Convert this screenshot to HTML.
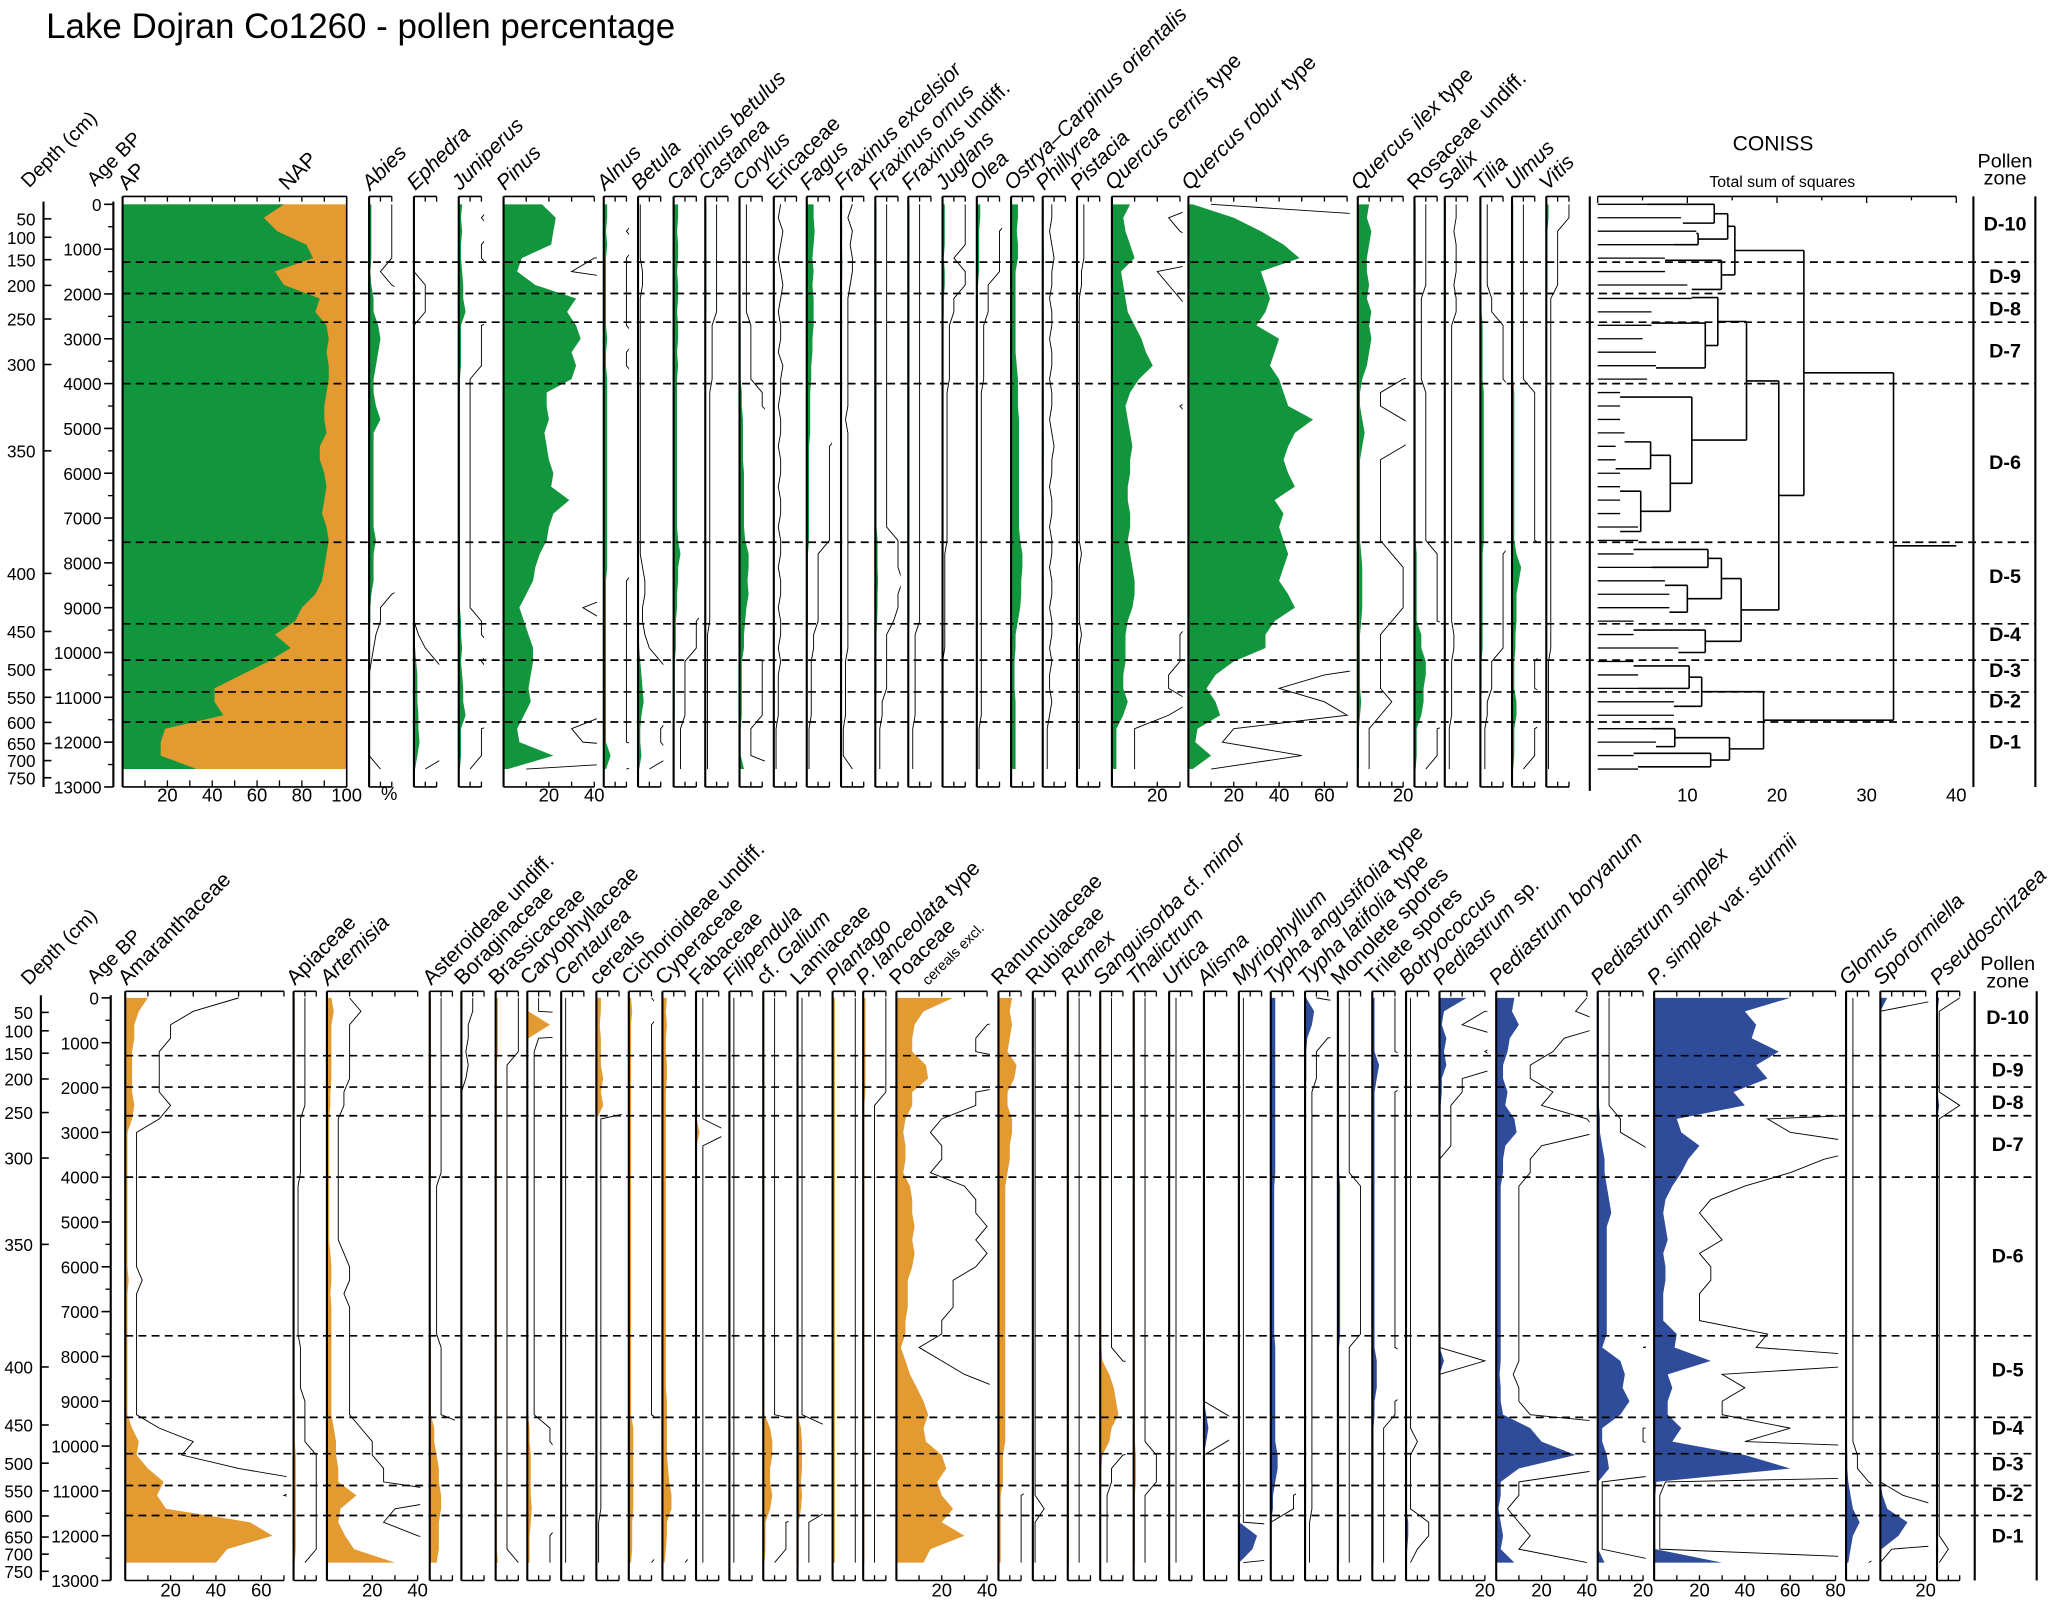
<!DOCTYPE html>
<html><head><meta charset="utf-8"><title>Lake Dojran Co1260 pollen percentage</title>
<style>
html,body{margin:0;padding:0;background:#fff;}
svg{display:block;font-family:"Liberation Sans",Arial,sans-serif;}
</style></head>
<body>
<svg id="chart" width="2067" height="1602" viewBox="0 0 1568 1215.3" preserveAspectRatio="none" xmlns="http://www.w3.org/2000/svg">
<rect x="0" y="0" width="1568" height="1216" fill="#fff"/>
<text x="35" y="29" font-size="26.5">Lake Dojran Co1260 - pollen percentage</text>
<text transform="translate(22,143) rotate(-45)" font-size="15">Depth (cm)</text>
<text transform="translate(72,142) rotate(-45)" font-size="15">Age BP</text>
<text transform="translate(22,748) rotate(-45)" font-size="15">Depth (cm)</text>
<text transform="translate(72,747) rotate(-45)" font-size="15">Age BP</text>
<text x="1345" y="114" font-size="16" text-anchor="middle">CONISS</text>
<text x="1352" y="142" font-size="12" text-anchor="middle">Total sum of squares</text>
<text x="1521" y="127" font-size="15" text-anchor="middle">Pollen</text>
<text x="1521" y="140" font-size="15" text-anchor="middle">zone</text>
<text x="1523" y="736" font-size="15" text-anchor="middle">Pollen</text>
<text x="1523" y="749" font-size="15" text-anchor="middle">zone</text>
<text x="289" y="607" font-size="14">%</text>
<g id="layer"></g>
</svg>
<script>
// ---------- data ----------
const ages = [0,300,600,900,1200,1500,1800,2100,2400,2700,3000,3300,3600,3900,4200,4500,4800,5100,5400,5700,6000,6300,6600,6900,7200,7500,7800,8100,8400,8700,9000,9300,9600,9900,10200,10500,10800,11100,11400,11700,12000,12300,12600];
const zoneNames = ["D-10","D-9","D-8","D-7","D-6","D-5","D-4","D-3","D-2","D-1"];
const zoneBoundaries = [1290,1990,2630,4000,7540,9360,10170,10880,11550];
const zoneLabelAges = [440,1610,2330,3270,5760,8300,9600,10400,11080,12000];
const depthLabels = [50,100,150,200,250,300,350,400,450,500,550,600,650,700,750];
const depthAtAge = [324,735,1235,1809,2559,3574,5500,8235,9530,10382,11000,11559,12030,12412,12794];
const ageTicks = [0,1000,2000,3000,4000,5000,6000,7000,8000,9000,10000,11000,12000,13000];

const AP = [72,63,69,82,85,68,72,88,86,91,92,91,92,92,91,90,90,91,88,88,90,91,90,89,91,92,91,90,89,86,80,77,68,75,65,53,41,41,45,19,17,17,33];
const abies = [1,1,1,1,1,0.5,1,2,2,4,5,4,3,2,2,3,5,2,2,2,2,2,2,2,2,3,2,2,2,1,0.5,0.5,0.3,0.2,0.1,0,0,0,0,0,0,0,0.5];
const ephedra = [0,0,0,0,0,0,0.5,0.5,0.5,0,0,0,0,0,0,0,0,0,0,0,0,0,0,0,0,0,0,0,0,0,0,0,0.2,0.5,1,1.5,1.5,1.5,2,2,2.5,1.5,0.5];
const juniperus = [1.5,1,1.5,1,1,1.5,2,2,3,1,1,1,1,0.5,0.5,0.5,0.5,0.5,0.5,0.5,0.5,0.5,0.5,0.5,0.5,0.5,0.5,0.5,0.5,0.5,0.5,1,1,1.5,1,1.5,2,2,3,1,1,1,0.5];
const pinus = [17,23,22,21,8,6,14,32,28,32,34,30,32,30,19,19,20,18,19,20,22,21,29,22,20,19,16,14,13,10,7,9,11,13,13,12,11,12,9,6,7,22,2];
const alnus = [1.5,1.5,1,1.5,1,1,1,1,1,1,1.5,1,1,1.5,1.5,1.5,1.5,1.5,1.5,1.5,1.5,1.5,1.5,1.5,1.5,1.5,1.5,1.5,1,1,1,1,1,1,1,1,1,1,1,1,1,3,1];
const betula = [0.1,0.1,0.1,0.1,0.1,0.2,0.2,0.1,0.1,0.1,0.1,0.1,0.1,0.1,0.1,0.1,0.1,0.1,0.1,0.1,0.1,0.1,0.1,0.1,0.1,0.1,0.1,0.2,0.3,0.3,0.2,0.2,0.3,0.5,1,1.5,2,2.5,1.5,1,1,1.5,0.5];
const carpinus = [2,2,1.5,2,2,1.5,2,2,1.5,2,2,1.5,2,1.5,1.5,1.5,1.5,1.5,1.5,1.5,1.5,1.5,1.5,1.5,1.5,2,3,2,2,1.5,1.5,1,1,1,0.5,0.5,0.5,0.5,0.5,0.3,0.3,0.3,0.3];
const castanea = [0.5,0.5,0.5,0.5,0.5,0.5,0.5,0.5,0.5,0.3,0.3,0.3,0.3,0.3,0.2,0.2,0.2,0.2,0.2,0.2,0.2,0.2,0.2,0.2,0.2,0.2,0.2,0.2,0.2,0.2,0.2,0.2,0.1,0.1,0.1,0.1,0.1,0.1,0.1,0.1,0.1,0.1,0.1];
const corylus = [0.3,0.3,0.3,0.3,0.3,0.3,0.3,0.3,0.3,0.5,0.5,0.5,0.5,0.5,1,1,1.5,1.5,1.5,1.5,2,2,2,2,2,2.5,4,4,3.5,4,3,2.5,2,2,1,1,1,1,1,0.5,0.5,0.5,2];
const ericaceae = [0.3,0.2,0.4,0.3,0.2,0.3,0.4,0.3,0.2,0.3,0.3,0.2,0.4,0.3,0.3,0.2,0.3,0.3,0.2,0.3,0.3,0.2,0.3,0.3,0.2,0.3,0.3,0.2,0.3,0.3,0.2,0.3,0.3,0.2,0.3,0.2,0.2,0.2,0.2,0.1,0.1,0.1,0.1];
const fagus = [3,3,3.5,3,2.5,3,2.5,3,3,3,2.5,2.5,2,2,1.5,1.5,1.5,1.5,1,1,1,1,1,1,1,1,0.5,0.5,0.5,0.5,0.5,0.5,0.3,0.3,0.2,0.2,0.2,0.2,0.2,0.1,0.1,0.1,0.1];
const fraxExc = [0.5,0.3,0.5,0.4,0.5,0.5,0.4,0.3,0.3,0.3,0.3,0.3,0.3,0.3,0.3,0.3,0.2,0.3,0.3,0.3,0.3,0.3,0.3,0.3,0.3,0.3,0.3,0.3,0.3,0.3,0.3,0.3,0.3,0.3,0.2,0.2,0.2,0.2,0.2,0.1,0.1,0.1,0.5];
const fraxOrn = [0.5,0.5,0.5,0.5,0.5,0.5,0.5,0.5,0.5,0.5,0.5,0.5,0.5,0.5,0.5,0.5,0.5,0.5,0.5,0.5,0.5,0.5,0.5,0.5,0.5,1,1,1,1.2,1,1,0.8,0.5,0.5,0.5,0.5,0.5,0.3,0.3,0.2,0.2,0.2,0.2];
const fraxUnd = [0.5,0.5,0.5,0.5,0.5,0.5,0.5,0.5,0.5,0.5,0.5,0.5,0.5,0.5,0.5,0.5,0.5,0.5,0.5,0.5,0.5,0.5,0.5,0.5,0.5,0.5,0.5,0.5,0.5,0.5,0.5,0.5,0.3,0.3,0.3,0.3,0.3,0.3,0.3,0.2,0.2,0.2,0.2];
const juglans = [1,1,1,1,0.5,1,1,0.5,0.5,0.3,0.3,0.3,0.3,0.3,0.2,0.2,0.2,0.2,0.2,0.2,0.2,0.2,0.2,0.2,0.2,0.2,0.1,0.1,0.1,0.1,0.1,0.1,0.1,0.1,0,0,0,0,0,0,0,0,0];
const olea = [1.5,1.5,1,1,1,1,0.5,0.5,0.5,0.3,0.3,0.3,0.3,0.3,0.2,0.2,0.2,0.2,0.2,0.2,0.2,0.2,0.2,0.2,0.2,0.2,0.2,0.2,0.2,0.2,0.2,0.2,0.2,0.2,0.2,0.2,0.2,0.2,0.2,0.1,0.1,0.1,0.1];
const ostrya = [3,3,2.5,3,3,2,2,2,2,2,2,2,2.5,3,3,3,3.5,3.5,3.5,3.5,3.5,3.5,3.5,3.5,3.5,4,5,5,4.5,4.5,4,3,2,2,1.5,1.5,1.5,2,2,2,2,2,2];
const phillyrea = [0.4,0.4,0.3,0.4,0.5,0.4,0.4,0.3,0.4,0.4,0.3,0.4,0.4,0.3,0.4,0.4,0.3,0.4,0.5,0.4,0.4,0.3,0.4,0.4,0.3,0.4,0.4,0.3,0.4,0.4,0.3,0.4,0.4,0.3,0.4,0.3,0.3,0.4,0.3,0.2,0.2,0.2,0.2];
const pistacia = [0.3,0.3,0.3,0.3,0.3,0.2,0.2,0.1,0.1,0.1,0.1,0.1,0.1,0.1,0.1,0.1,0.1,0.1,0.1,0.1,0.1,0.1,0.1,0.1,0.1,0.1,0.2,0.1,0.1,0.1,0.1,0.1,0.2,0.1,0.1,0.1,0.1,0.1,0.1,0.1,0.1,0.1,0.1];
const qCerris = [8,5,6,8,10,4,5,6,7,10,13,15,18,12,8,6,7,8,9,8,8,7,7,8,8,7,8,9,10,10,9,7,6,6,6,5,5,7,5,2,2,2,2];
const qRobur = [2,20,32,42,49,32,34,36,34,30,40,38,36,40,42,44,55,47,44,42,44,47,38,42,40,42,44,42,40,44,47,38,34,34,20,12,8,12,14,4,3,10,2];
const qIlex = [5,4,6,5,4,4,5,4,6,5,6,5,4,2,1,1,2,3,2,1,1,1,1,1,1,1,1.5,2,2,2,2,1.5,1,1,1,1,1,1.5,1,0.5,0.5,0.5,0.5];
const rosaceae = [0.5,0.5,0.5,0.5,0.5,0.5,0.5,0.3,0.3,0.3,0.3,0.3,0.3,0.3,0.5,0.5,0.5,0.5,0.5,0.5,0.5,0.5,0.5,0.5,0.5,0.5,1,1,1,1,1,1,3,3,5,5,4,4,3,1,1,1,0.5];
const salix = [0.5,0.5,0.4,0.5,0.5,0.5,0.4,0.5,0.5,0.3,0.3,0.3,0.3,0.3,0.3,0.3,0.3,0.3,0.3,0.3,0.3,0.3,0.3,0.3,0.3,0.3,0.3,0.3,0.3,0.3,0.3,0.3,0.4,0.4,0.3,0.3,0.3,0.3,0.3,0.2,0.2,0.2,0.2];
const tilia = [0.3,0.3,0.3,0.3,0.3,0.3,0.3,0.5,0.5,1,1,1,1,1,1.5,1.5,1.5,1.5,1.5,1.5,1.5,1.5,1.5,1.5,1.5,1.5,1,1,1,1,1,1,1,1,0.5,0.5,0.5,0.3,0.3,0.2,0.2,0.2,0.2];
const ulmus = [0.5,0.5,0.5,0.5,0.5,0.5,0.5,0.5,0.5,0.5,0.5,0.5,0.5,0.5,1,1,1,1,1,1,1,1,1,1,1,1,2,4,3,2,2,2,1.5,1.5,1,1,1,2,2,1,1,1,0.5];
const vitis = [1,1,0.5,0.5,0.5,0.5,0.5,0.2,0.2,0.2,0.2,0.2,0.2,0.2,0.2,0.2,0.2,0.2,0.2,0.2,0.2,0.2,0.2,0.2,0.2,0.2,0.2,0.2,0.2,0.2,0.2,0.2,0.2,0.2,0.1,0.1,0.1,0.1,0.1,0.1,0.1,0.1,0.1];

const amaranth = [10,6,4,4,3,3,3,3,4,3,1,1,1,1,1,1,1,1,1,1,1,1.5,1,1,1,1,1,1,1,1,1,1,3,6,5,10,17,14,18,55,65,45,40];
const apiaceae = [0.5,0.5,0.5,0.5,0.5,0.5,0.5,0.5,0.5,0.3,0.3,0.3,0.3,0.3,0.2,0.2,0.2,0.2,0.2,0.2,0.2,0.2,0.2,0.2,0.2,0.2,0.3,0.3,0.3,0.3,0.5,0.5,0.5,0.5,1,1,1,1,1,1,1,1,0.5];
const artemisia = [2,3,2,2,2,2,2,1.5,1.5,1,1,1,1,1,1,1,1,1,1,1.5,2,2,1.5,2,2,2,2,2,2,2,2,2,3,4,4,5,5,13,6,5,8,12,30];
const asteroideae = [0.5,0.5,0.5,0.5,0.5,0.5,0.5,0.5,0.5,0.5,0.5,0.5,0.5,0.5,0.3,0.3,0.3,0.3,0.3,0.3,0.3,0.3,0.3,0.3,0.3,0.3,0.5,0.5,0.5,0.5,0.5,0.5,2,2,3,4,4,5,5,4,4,4,3];
const boraginaceae = [0.5,0.5,0.3,0.3,0.2,0.3,0.2,0,0,0,0,0,0,0,0,0,0,0,0,0,0,0,0,0,0,0,0,0,0,0,0,0,0,0,0,0,0,0,0,0,0,0,0];
const brassicaceae = [1,1,1,1,1,0.5,0.5,0.5,0.5,0.5,0.5,0.5,0.5,0.5,0.5,0.5,0.5,0.5,0.5,0.5,0.5,0.5,0.5,0.5,0.5,0.5,0.5,0.5,0.5,0.5,0.5,0.5,0.5,0.5,0.5,0.5,0.5,0.5,0.5,0.5,0.5,0.5,1];
const caryophyllaceae = [0.5,0.5,10,0.5,0.3,0.3,0.3,0.3,0.3,0.3,0.3,0.3,0.3,0.3,0.3,0.3,0.3,0.3,0.3,0.3,0.3,0.3,0.3,0.3,0.3,0.3,0.3,0.3,0.3,0.3,0.3,0.3,1,1,1.5,1.5,1.5,1.5,2,1.5,1,1,1];
const centaurea = [0.2,0.2,0.2,0.2,0.2,0.2,0.2,0.2,0.2,0.2,0.2,0.2,0.2,0.2,0.2,0.2,0.2,0.2,0.2,0.2,0.2,0.2,0.2,0.2,0.2,0.2,0.2,0.2,0.2,0.2,0.2,0.2,0.2,0.2,0.2,0.2,0.2,0.2,0.2,0.2,0.2,0.2,0.2];
const cereals = [2,2,1.5,2,2,2,3,2,3,0.2,0.2,0.2,0.2,0.2,0.2,0.2,0.2,0.2,0.2,0.2,0.2,0.2,0.2,0.2,0.2,0.2,0.2,0.2,0.2,0.2,0.2,0.2,0.2,0.2,0.2,0.2,0.2,0.2,0.2,0.1,0.1,0.1,0.1];
const cichorioideae = [1,1.5,1,1,1,1,1,1,1,1,1,1,1,1,1,1,1,1,1,1,1,1,1,1,1,1,1,1,1,1,1,1,2,2,2,2,2,2,2,1.5,1.5,1.5,1];
const cyperaceae = [2,1.5,2,1.5,1.5,2,2,1.5,1.5,1.5,1.5,1.5,1.5,1.5,1.5,1.5,1.5,1.5,1.5,1.5,1.5,1.5,1.5,1.5,1.5,1.5,1.5,1.5,1.5,1.5,2,2,2,2,2,2.5,3,4,4,2,2,1.5,1];
const fabaceae = [0.3,0.3,0.3,0.3,0.3,0.3,0.3,0.3,0.3,0.3,1.5,0.3,0.3,0.3,0.3,0.3,0.3,0.3,0.3,0.3,0.3,0.3,0.3,0.3,0.3,0.3,0.3,0.3,0.3,0.3,0.3,0.3,0.3,0.3,0.3,0.3,0.3,0.3,0.3,0.3,0.3,0.3,0.3];
const filipendula = [0.2,0.2,0.2,0.2,0.2,0.2,0.2,0.2,0.2,0.2,0.2,0.2,0.2,0.2,0.2,0.2,0.2,0.2,0.2,0.2,0.2,0.2,0.2,0.2,0.2,0.2,0.2,0.2,0.2,0.2,0.2,0.2,0.2,0.2,0.2,0.2,0.2,0.2,0.2,0.2,0.2,0.2,0.2];
const galium = [0.5,0.5,0.5,0.5,0.5,0.5,0.5,0.5,0.5,0.5,0.5,0.5,0.5,0.5,0.5,0.5,0.5,0.5,0.5,0.5,0.5,0.5,0.5,0.5,0.5,0.5,0.5,0.5,0.5,0.5,0.5,0.5,3,4,4,3,3,4,3,1,1,1,0.5];
const lamiaceae = [0.2,0.2,0.2,0.2,0.2,0.2,0.2,0.2,0.2,0.2,0.2,0.2,0.2,0.2,0.2,0.2,0.2,0.2,0.2,0.2,0.2,0.2,0.2,0.2,0.2,0.2,0.2,0.2,0.2,0.2,0.2,0.2,1.5,2,2,2,1.5,2,1.5,0.5,0.5,0.5,0.5];
const plantago = [1,1,1,1,1,1,1,1,1,1,1,1,1,1,1,1,1,1,1,1,1,1,1,1,1,1,1,1,1,1,1,1,1,1,1,1,1,1,1,1,1,1,1];
const plantLanc = [1,1,1,1,1,1,1,1,0.5,0.5,0.5,0.5,0.5,0.5,0.5,0.5,0.5,0.5,0.5,0.5,0.5,0.5,0.5,0.5,0.5,0.5,0.5,0.5,0.5,0.5,0.5,0.5,0.5,0.5,0.5,0.5,0.5,0.5,0.5,0.5,0.5,0.5,0.5];
const poaceae = [25,12,8,7,7,13,14,7,7,4,3,4,4,3,6,7,7,8,7,8,7,5,5,5,4,4,2,4,6,9,12,14,12,13,20,22,18,20,25,20,30,15,12];
const ranunculaceae = [6,5,6,5,4,8,7,4,4,6,6,5,5,4,3,3,3,3,3,3,3,3,3,3,3,3,3,3,3,3,3,3,3,3,2,2,2,1,1,1,1,1,1];
const rubiaceae = [0.1,0.1,0.1,0.1,0.1,0.1,0.1,0.1,0.1,0.1,0.1,0.1,0.1,0.1,0.1,0.1,0.1,0.1,0.1,0.1,0.1,0.1,0.1,0.1,0.1,0.1,0.1,0.1,0.1,0.1,0.1,0.1,0.1,0.1,0.1,0.1,0.1,0.1,0.5,0.1,0.1,0.1,0.1];
const rumex = [0.5,0.5,0.5,0.5,0.5,0.5,0.5,0.5,0.5,0.5,0.5,0.5,0.5,0.5,0.5,0.5,0.5,0.5,0.5,0.5,0.5,0.5,0.5,0.5,0.5,0.5,0.5,0.5,0.5,0.5,0.5,0.5,0.5,0.5,0.5,0.5,0.5,0.5,0.5,0.5,0.5,0.5,0.5];
const sanguisorba = [0.5,0.5,0.5,0.5,0.5,0.5,0.5,0.5,0.5,0.5,0.5,0.5,0.5,0.5,0.5,0.5,0.5,0.5,0.5,0.5,0.5,0.5,0.5,0.5,0.5,0.5,0.5,1,4,6,7,8,5,4,1,0.5,0.5,0.3,0.3,0.3,0.3,0.3,0.3];
const thalictrum = [0.5,0.5,0.5,0.5,0.5,0.5,0.5,0.5,0.5,0.5,0.5,0.5,0.5,0.5,0.5,0.5,0.5,0.5,0.5,0.5,0.5,0.5,0.5,0.5,0.5,0.5,0.5,0.5,0.5,0.5,0.5,0.5,0.5,0.5,1,1,1,0.5,0.5,0.5,0.5,0.5,0.5];
const urtica = [0.3,0.3,0.3,0.3,0.3,0.3,0.3,0.3,0.3,0.3,0.3,0.3,0.3,0.3,0.3,0.3,0.3,0.3,0.3,0.3,0.3,0.3,0.3,0.3,0.3,0.3,0.3,0.3,0.3,0.3,0.3,0.3,0.3,0.3,0.3,0.3,0.3,0.3,0.3,0.3,0.3,0.3,0.3];
const alisma = [0,0,0,0,0,0,0,0,0,0,0,0,0,0,0,0,0,0,0,0,0,0,0,0,0,0,0,0,0,0,0,1,2,1,0,0,0,0,0,0,0,0,0];
const myriophyllum = [0.2,0.2,0.2,0.2,0.2,0.2,0.2,0.2,0.2,0.2,0.2,0.2,0.2,0.2,0.2,0.2,0.2,0.2,0.2,0.2,0.2,0.2,0.2,0.2,0.2,0.2,0.2,0.2,0.2,0.2,0.2,0.2,0.2,0.2,0.2,0.2,0.2,0.2,0.2,0.2,8,6,0.2];
const typhaAng = [2,2,2,2,2,2,2,2,2,2,2,2,2,2,1.5,1.5,1.5,1.5,1.5,1.5,1.5,1.5,1.5,1.5,1.5,1.5,2,2,2,2,2,2,2,2,3,3,2,1,1,0,0,0,0];
const typhaLat = [0.5,4,3,1,0.5,0.5,0.5,0.3,0.3,0.3,0.3,0.3,0.3,0.3,0.3,0.3,0.3,0.3,0.3,0.3,0.3,0.3,0.3,0.3,0.3,0.3,0.3,0.3,0.3,0.3,0.3,0.3,0.3,0.3,0.3,0.3,0.3,0.3,0.3,0.2,0.2,0.2,0.2];
const monolete = [0.5,0.5,0.5,0.5,0.5,0.5,0.5,0.5,0.5,0.5,0.5,0.5,0.5,0.5,1,1,1,1,1,1,1,1,1,1,1,1,0.5,0.5,0.5,0.5,0.5,0.5,0.5,0.5,0.5,0.5,0.5,0.5,0.5,0.5,0.5,0.5,0.5];
const trilete = [1,1,1,1,1,3,2,1,1,1,1,1,1,1,1,1,1,1,1,1,1,1,1,1,1,1,1,2,2,2,1,1,0.5,0.5,0.5,0.5,0.5,0.5,0.5,0.5,0.5,0.5,0.5];
const botryococcus = [0.2,0.2,0.2,0.2,0.2,0.2,0.2,0.2,0.2,0.2,0.2,0.2,0.2,0.2,0.2,0.2,0.2,0.2,0.2,0.2,0.2,0.2,0.2,0.2,0.2,0.2,0.2,0.2,0.2,0.2,0.2,0.2,0.2,0.5,0.2,0.2,0.2,0.2,0.2,1,1,0.5,0.2];
const pediastrumSp = [12,2,1,3,2,3,1,1,0.5,0.5,0.5,0.5,0,0,0,0,0,0,0,0,0,0,0,0,0,0,0,2,0,0,0,0,0,0,0,0,0,0,0,0,0,0,0];
const pBoryanum = [8,7,10,6,5,3,3,5,4,8,9,4,3,3,2,2,2,2,2,2,2,2,2,2,2,2,2,2,1.5,2,2,3,15,20,35,10,2,2,1,2,3,2,8];
const pSimplex = [0.5,0.5,0.5,0.5,0.5,0.5,0.5,0.5,0.5,1,1,2,3,3,4,5,6,4,4,4,4,4,4,4,4,4,2,10,12,11,14,10,2,2,4,5,0.2,0.2,0.2,0.2,0.2,0.2,3];
const pSturmii = [60,40,45,43,55,45,50,35,40,10,12,20,15,12,8,5,4,5,6,4,5,5,4,4,4,10,9,25,6,8,6,6,12,8,40,60,1,0.5,0.5,0.5,0.5,0.5,30];
const glomus = [0.3,0.3,0.3,0.3,0.3,0.3,0.3,0.3,0.3,0.3,0.3,0.3,0.3,0.3,0.3,0.3,0.3,0.3,0.3,0.3,0.3,0.3,0.3,0.3,0.3,0.3,0.3,0.3,0.3,0.3,0.3,0.3,0.3,0.3,0.5,0.5,1,2,3,6,3,2,1];
const sporormiella = [3,0,0,0,0,0,0,0,0,0,0,0,0,0,0,0,0,0,0,0,0,0,0,0,0,0,0,0,0,0,0,0,0,0,0,0,0,1,3,12,8,0.5,0];
const pseudoschizaea = [1,0.1,0.1,0.1,0.1,0.1,0.1,0.1,1,0.1,0.1,0.1,0.1,0.1,0.1,0.1,0.1,0.1,0.1,0.1,0.1,0.1,0.1,0.1,0.1,0.1,0.1,0.1,0.1,0.1,0.1,0.1,0.1,0.1,0.1,0.1,0.1,0.1,0.1,0.1,0.1,0.5,0.1];

// CONISS: leaf sums of squares per sample, and brackets [age1, ss1, age2, ss2, ssNode]
const conissLeaf = [5.5,9.3,11,8.5,7.5,7.5,10,10.5,6,6,5,6.5,6.5,5.5,2.5,2.5,2.5,3,2,2,2.5,2.5,2.5,2.5,4.5,4.5,4,6,7.5,8,8,4,4,9,4,4.5,4.5,8.5,8.5,6,6.5,4,4.5];
const conissNodes = [
 [0,5.5,420,9.5,13],[650,11,900,8.5,11.2],[210,13,775,11.2,14.5],[1250,7.5,1900,10.5,13.8],[490,14.5,1575,13.8,15.3],
 [2650,6,3650,6.5,12],[2080,10.5,3150,12,13.4],[5300,3,5900,2,5.9],[6400,2.5,7300,2.5,4.8],[5600,5.9,6850,4.8,8.1],
 [4300,2.5,6225,8.1,10.5],[2615,13.4,5260,10.5,16.6],[7700,4,8100,6,12.3],[8500,7.5,9100,8,10],[7900,12.3,8800,10,13.8],
 [9500,4,10000,9,12],[8350,13.8,9750,12,16],[3940,16.6,9050,16,20.2],[1030,15.3,6495,20.2,23],
 [10300,4,10800,4.5,10.2],[10550,10.2,11200,8.5,11.6],[11700,6,12100,6.5,8.6],[12250,4,12550,4.5,12.6],[11900,8.6,12400,12.6,14.7],[10875,11.6,12150,14.7,18.5],
 [3760,23,11510,18.5,33]
];
const conissTicks = [10,20,30,40];

// ---------- layout ----------
const GREEN = "#12963d", ORANGE = "#e39a30", BLUE = "#2f4c9b";
const S = 1.72;
const topP = {axTop:149, axBot:597, y:a => 155 + a*0.034, lab:145, tickLab:608};
const botP = {axTop:752, axBot:1199, y:a => 757 + a*0.034, lab:748, tickLab:1211};

const topTaxa = [
 {v:abies,it:"Abies",x:280,w:10},{v:ephedra,it:"Ephedra",x:314,w:10},{v:juniperus,it:"Juniperus",x:348,w:10},
 {v:pinus,it:"Pinus",x:382,w:40,ticks:[20,40]},{v:alnus,it:"Alnus",x:458,w:10},{v:betula,it:"Betula",x:484,w:10},
 {v:carpinus,it:"Carpinus betulus",x:511,w:10},{v:castanea,it:"Castanea",x:535,w:10},{v:corylus,it:"Corylus",x:561,w:10},
 {v:ericaceae,pre:"Ericaceae",x:587,w:10},{v:fagus,it:"Fagus",x:612,w:10},{v:fraxExc,it:"Fraxinus excelsior",x:638,w:10},
 {v:fraxOrn,it:"Fraxinus ornus",x:664,w:10},{v:fraxUnd,it:"Fraxinus",rest:" undiff.",x:689,w:10},{v:juglans,it:"Juglans",x:715,w:10},
 {v:olea,it:"Olea",x:741,w:10},{v:ostrya,it:"Ostrya–Carpinus orientalis",x:767,w:10},{v:phillyrea,it:"Phillyrea",x:791,w:10},
 {v:pistacia,it:"Pistacia",x:817,w:10},{v:qCerris,it:"Quercus cerris",rest:" type",x:843.5,w:30,ticks:[20]},
 {v:qRobur,it:"Quercus robur",rest:" type",x:901.5,w:70,ticks:[20,40,60]},{v:qIlex,it:"Quercus ilex",rest:" type",x:1030,w:20,ticks:[20]},
 {v:rosaceae,pre:"Rosaceae undiff.",x:1073,w:10},{v:salix,it:"Salix",x:1096,w:10},{v:tilia,it:"Tilia",x:1123,w:10},
 {v:ulmus,it:"Ulmus",x:1147,w:10},{v:vitis,it:"Vitis",x:1173,w:10}
];
const botTaxa = [
 {v:amaranth,pre:"Amaranthaceae",x:95,w:70,ticks:[20,40,60],c:ORANGE},{v:apiaceae,pre:"Apiaceae",x:222.7,w:10,c:ORANGE},
 {v:artemisia,it:"Artemisia",x:248,w:40,ticks:[20,40],c:ORANGE},{v:asteroideae,pre:"Asteroideae undiff.",x:326,w:10,c:ORANGE},
 {v:boraginaceae,pre:"Boraginaceae",x:350,w:10,c:ORANGE},{v:brassicaceae,pre:"Brassicaceae",x:376,w:10,c:ORANGE},
 {v:caryophyllaceae,pre:"Caryophyllaceae",x:400,w:10,c:ORANGE},{v:centaurea,it:"Centaurea",x:425.7,w:10,c:ORANGE},
 {v:cereals,pre:"cereals",x:452.4,w:10,c:ORANGE},{v:cichorioideae,pre:"Cichorioideae undiff.",x:477,w:10,c:ORANGE},
 {v:cyperaceae,pre:"Cyperaceae",x:502.5,w:10,c:ORANGE},{v:fabaceae,pre:"Fabaceae",x:528,w:10,c:ORANGE},
 {v:filipendula,it:"Filipendula",x:553.3,w:10,c:ORANGE},{v:galium,pre:"cf. ",it:"Galium",x:579,w:10,c:ORANGE},
 {v:lamiaceae,pre:"Lamiaceae",x:605,w:10,c:ORANGE},{v:plantago,it:"Plantago",x:631.6,w:10,c:ORANGE},
 {v:plantLanc,it:"P. lanceolata",rest:" type",x:654.8,w:10,c:ORANGE},{v:poaceae,pre:"Poaceae",x:680,w:40,ticks:[20,40],c:ORANGE},
 {v:ranunculaceae,pre:"Ranunculaceae",x:757.4,w:10,c:ORANGE},{v:rubiaceae,pre:"Rubiaceae",x:783.5,w:10,c:ORANGE},
 {v:rumex,it:"Rumex",x:810,w:10,c:ORANGE},{v:sanguisorba,it:"Sanguisorba",rest:" cf. ",it2:"minor",x:834.6,w:10,c:ORANGE},
 {v:thalictrum,it:"Thalictrum",x:860,w:10,c:ORANGE},{v:urtica,it:"Urtica",x:886.9,w:10,c:ORANGE},
 {v:alisma,it:"Alisma",x:913.3,w:10,c:BLUE},{v:myriophyllum,it:"Myriophyllum",x:939.8,w:10,c:BLUE},
 {v:typhaAng,it:"Typha angustifolia",rest:" type",x:964,w:10,c:BLUE},{v:typhaLat,it:"Typha latifolia",rest:" type",x:990,w:10,c:BLUE},
 {v:monolete,pre:"Monolete spores",x:1014.9,w:10,c:BLUE},{v:trilete,pre:"Trilete spores",x:1041,w:10,c:BLUE},
 {v:botryococcus,it:"Botryococcus",x:1066.6,w:10,c:BLUE},{v:pediastrumSp,it:"Pediastrum",rest:" sp.",x:1092,w:20,ticks:[20],c:BLUE},
 {v:pBoryanum,it:"Pediastrum boryanum",x:1135,w:40,ticks:[20,40],c:BLUE},{v:pSimplex,it:"Pediastrum simplex",x:1212,w:20,ticks:[20],c:BLUE},
 {v:pSturmii,it:"P. simplex",rest:" var. ",it2:"sturmii",x:1254.8,w:80,ticks:[20,40,60,80],c:BLUE},
 {v:glomus,it:"Glomus",x:1400.4,w:10,c:BLUE},{v:sporormiella,it:"Sporormiella",x:1426.4,w:20,ticks:[20],c:BLUE},
 {v:pseudoschizaea,it:"Pseudoschizaea",x:1469.4,w:10,c:BLUE}
];

const NS = "http://www.w3.org/2000/svg";
const layer = document.getElementById("layer");
let clipId = 0;
function el(tag, parent){ const e = document.createElementNS(NS, tag); (parent||layer).appendChild(e); return e; }
function line(x1,y1,x2,y2,w,parent){ const l = el("line",parent); l.setAttribute("x1",x1); l.setAttribute("y1",y1); l.setAttribute("x2",x2); l.setAttribute("y2",y2); l.setAttribute("stroke","#000"); l.setAttribute("stroke-width",w); return l; }
function txt(x,y,s,size,anchor,parent){ const t = el("text",parent); t.setAttribute("x",x); t.setAttribute("y",y); t.setAttribute("font-size",size); if(anchor) t.setAttribute("text-anchor",anchor); t.textContent = s; return t; }

function drawTaxon(p, t, color, slug){
  const g = el("g");
  
  
  const x0 = t.x, w = t.w*S;
  const exag = t.w <= 20 ? 10 : 5;
  const cp = el("clipPath", g); const cid = "c"+(clipId++); cp.setAttribute("id", cid);
  const cr = el("rect", cp); cr.setAttribute("x", x0); cr.setAttribute("y", p.axTop); cr.setAttribute("width", w+2); cr.setAttribute("height", p.axBot-p.axTop);
  const ex = el("polyline", g);
  
  
  ex.setAttribute("points", t.v.map((v,i)=> (x0+v*exag*S).toFixed(1)+","+p.y(ages[i]).toFixed(1)).join(" "));
  ex.setAttribute("fill","none"); ex.setAttribute("stroke","#000"); ex.setAttribute("stroke-width","0.7"); ex.setAttribute("clip-path","url(#"+cid+")");
  const pg = el("polygon", g);
  
  
  const pts = [x0+","+p.y(ages[0])].concat(t.v.map((v,i)=> (x0+v*S).toFixed(1)+","+p.y(ages[i]).toFixed(1))).concat([x0+","+p.y(ages[ages.length-1])]);
  pg.setAttribute("points", pts.join(" ")); pg.setAttribute("fill", color);
  line(x0,p.axTop,x0,p.axBot,1.6,g);
  line(x0,p.axTop,x0+w,p.axTop,1.2,g);
  line(x0,p.axBot,x0+w,p.axBot,1.2,g);
  const step = t.w>=30 ? 10 : 5;
  for(let k=step;k<=t.w;k+=step){
    line(x0+k*S,p.axTop,x0+k*S,p.axTop+4,1,g);
    line(x0+k*S,p.axBot,x0+k*S,p.axBot-4,1,g);
  }
  (t.ticks||[]).forEach(k=>{ const tl = txt(x0+k*S, p.tickLab, String(k), 14, "middle", g);
    
     });
  const lab = el("text", g);
  
  
  lab.setAttribute("transform","translate("+(x0+1)+","+p.lab+") rotate(-45)");
  lab.setAttribute("font-size","16");
  const parts = [[t.pre,false],[t.it,true],[t.rest,false],[t.it2,true]];
  parts.forEach(([s,it])=>{ if(!s) return; const ts = el("tspan", lab); ts.textContent = s; if(it) ts.setAttribute("font-style","italic"); });
}

function slugify(t){ return ((t.pre||"")+(t.it||"")+(t.rest||"")+(t.it2||"")).toLowerCase().replace(/[^a-z0-9]+/g,"-").replace(/^-|-$/g,"") + "-plot"; }

function drawAxes(p, dx, ax){
  const g = el("g");
  
  
  line(dx, p.y(0)-2, dx, p.axBot, 1.6, g);
  depthLabels.forEach((d,i)=>{ const y = p.y(depthAtAge[i]); line(dx, y, dx+6, y, 1.2, g);
    const t = txt(dx-6, y+5, String(d), 13, "end", g);
    
     });
  line(ax, p.y(0)-2, ax, p.axBot, 1.6, g);
  ageTicks.forEach(a=>{ const y = p.y(a); line(ax-7, y, ax, y, 1.2, g);
    const t = txt(ax-9, y+5, String(a), 13, "end", g);
    
    
    if(a<13000){ const ym = p.y(a+500); line(ax-4, ym, ax, ym, 1, g); } });
}
drawAxes(topP, 33, 86);
drawAxes(botP, 31, 84);

(function(){
  const g = el("g");
  
  
  const x0 = 93, s = 1.7, p = topP;
  const bg = el("rect", g);
  
  
  bg.setAttribute("x", x0); bg.setAttribute("y", p.y(0)); bg.setAttribute("width", 100*s); bg.setAttribute("height", p.y(ages[ages.length-1]) - p.y(0)); bg.setAttribute("fill", ORANGE);
  const pg = el("polygon", g);
  
  
  const pts = [x0+","+p.y(0)].concat(AP.map((v,i)=> (x0+v*s).toFixed(1)+","+p.y(ages[i]).toFixed(1))).concat([x0+","+p.y(ages[ages.length-1])]);
  pg.setAttribute("points", pts.join(" ")); pg.setAttribute("fill", GREEN);
  line(x0,p.axTop,x0,p.axBot,1.6,g); line(x0+100*s,p.axTop,x0+100*s,p.axBot,1.2,g);
  line(x0,p.axTop,x0+100*s,p.axTop,1.2,g); line(x0,p.axBot,x0+100*s,p.axBot,1.2,g);
  for(let k=10;k<=100;k+=10){ line(x0+k*s,p.axTop,x0+k*s,p.axTop+4,1,g); line(x0+k*s,p.axBot,x0+k*s,p.axBot-5,1,g); }
  [20,40,60,80,100].forEach(k=>{ const t = txt(x0+k*s, p.tickLab, String(k), 14, "middle", g);
    
     });
  const a = txt(0,0,"AP",16,null,g); a.setAttribute("transform","translate(96,145) rotate(-45)");
  
  
  const n = txt(0,0,"NAP",16,null,g); n.setAttribute("transform","translate(218,145) rotate(-45)");
  
  
})();

topTaxa.forEach(t=> drawTaxon(topP, t, GREEN, slugify(t)));
botTaxa.forEach(t=> drawTaxon(botP, t, t.c, slugify(t)));

(function(){
  const t = txt(0,0,"cereals excl.",11,null);
  
  
  t.setAttribute("transform","translate(704,748) rotate(-45)");
})();

(function(){
  const g = el("g");
  
  
  const cx = ss => 1212 + ss*6.8, p = topP;
  line(1206, p.axTop, 1206, 600, 1.6, g);
  line(cx(0), p.axTop, cx(40), p.axTop, 1.2, g);
  for(let k=0;k<=40;k+=5){ line(cx(k), p.axTop, cx(k), p.axTop+(k%10?3:5), 1, g); }
  conissTicks.forEach(k=>{ const t = txt(cx(k), p.tickLab, String(k), 14, "middle", g);
    
     });
  conissLeaf.forEach((s,i)=>{ const l = line(cx(0), p.y(ages[i]), cx(s), p.y(ages[i]), 1, g);
    
     });
  conissNodes.forEach(n=>{
    const [a1,s1,a2,s2,sn] = n;
    line(cx(s1), p.y(a1), cx(sn), p.y(a1), 1.2, g);
    line(cx(s2), p.y(a2), cx(sn), p.y(a2), 1.2, g);
    const v = line(cx(sn), p.y(a1), cx(sn), p.y(a2), 1.2, g);
    
    
  });
  const root = conissNodes[conissNodes.length-1];
  line(cx(root[4]), p.y(7620), cx(40), p.y(7620), 1.2, g);
})();

function drawZones(p, xs, xe, zl, zr, labX){
  const g = el("g");
  
  
  zoneBoundaries.forEach(a=>{ const l = line(xs, p.y(a), xe, p.y(a), 1.3, g); l.setAttribute("stroke-dasharray","6,4");
    
     });
  line(zl, p.axTop, zl, p.axBot, 1.6, g);
  line(zr, p.axTop, zr, p.axBot, 1.6, g);
  zoneNames.forEach((z,i)=>{ const t = txt(labX, p.y(zoneLabelAges[i])+5, z, 15, "middle", g); t.setAttribute("font-weight","bold");
    
     });
}
drawZones(topP, 93, 1544, 1497, 1544, 1521);
drawZones(botP, 95, 1545, 1498, 1545, 1523);
</script>
</body></html>
